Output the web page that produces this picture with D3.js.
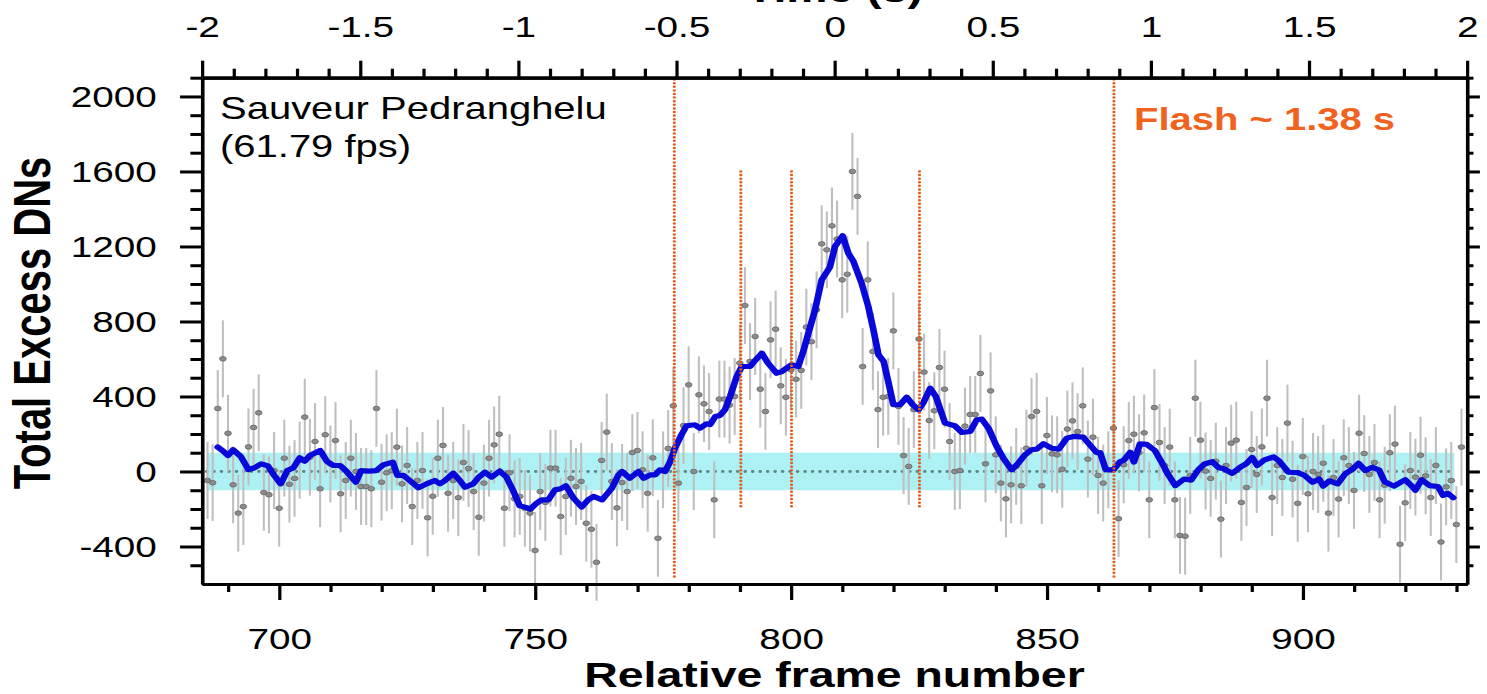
<!DOCTYPE html>
<html>
<head>
<meta charset="utf-8">
<script src="https://cdn.jsdelivr.net/npm/d3@7"></script>
<style>
  html, body { margin: 0; padding: 0; background: #fff; }
  svg { display: block; }
</style>
</head>
<body>
<div id="chart"></div>
<script>
// ---------- data ----------
// one excess-DN value per frame, starting at frame 686
const firstFrame = 686;
const excessDN = [
  -48, -60, 336, 601, 204, -71, -222, -187, 131, 235,
  313, -112, -124, 5, -196, 71, -68, -37, 60, 290,
  76, 160, -92, 196, 40, 165, -119, -48, 71, 0,
  -80, -80, -92, 336, -57, -7, 4, 130, -66, 32,
  -187, -48, 5, -247, -132, 71, 139, -116, -48, -140,
  48, 16, -107, -244, -62, 71, 142, 199, -196, -7,
  -146, -133, -196, -222, -421, -107, -165, 18, 18, -240,
  -133, -36, -80, -53, -276, -308, -484, 59, 210, -53,
  -194, -59, -107, 101, 112, 9, -116, 73, -356, 9,
  123, 350, -62, 245, 462, 0, 409, 361, 320, -151,
  386, 386, 354, 400, 578, 885, 587, 720, 439, 320,
  702, 759, 457, 396, 542, 492, 539, 770, 692, 862,
  1214, 1182, 1310, 1240, 1022, 1052, 1600, 1467, 560, 1022,
  640, 330, 396, 400, 750, 347, 85, 27, 330, 706,
  530, 272, 324, 555, 439, 160, 0, 5, 242, 304,
  304, 523, 41, 430, 89, -62, -146, -71, 27, -76,
  124, 293, 320, -76, 192, 94, 89, 12, 226, 270,
  213, 350, 66, 183, -21, -62, 9, 231, -252, 36,
  165, 199, 100, 206, -151, 341, 155, 32, 130, -151,
  -341, -345, -21, 391, 167, 2, -37, 55, -254, 32,
  151, 167, -165, -85, 117, -16, 131, 391, -139, 32,
  -32, 258, -41, -170, 80, -119, 0, -16, 44, -222,
  -32, -147, 73, 32, -101, 204, 96, -16, 48, -151,
  -73, 100, 146, -388, -167, 5, -30, 87, -23, -139,
  32, -376, -82, -48, -283, 130
];
const errorHalf = 205;   // error bars look the same length everywhere

// the blue smoothed curve, sampled along its path
const smoothFrames = [
  688, 689, 690, 691, 692.5, 694, 695.2, 696.5, 697.8, 699, 700.3, 701.6, 702.8, 704, 705, 706,
  708, 709.3, 710.6, 711.9, 713, 715, 716, 717.5, 719, 720.3, 722.2, 723.1, 724.3, 725.5, 727.2,
  728.8, 730.4, 731.4, 732.4, 734, 735.3, 736.3, 737.9, 739, 740.2, 741.5, 743.1, 744.4, 745.7,
  747, 748, 749.1, 750.3, 751.3, 752.6, 753.9, 755, 756, 757.5, 759.1, 760.4, 761.4, 763.1, 765,
  766.3, 767, 768.5, 770.2, 771.2, 772.5, 773.5, 774.4, 775.4, 776.4, 777.3, 778.6, 779.6, 781.2,
  782.2, 783.5, 784.2, 785.2, 786.1, 787.1, 788.1, 789.4, 790.4, 792, 793.1, 794.3, 795.5, 797.2,
  798.2, 800.1, 801.4, 802.4, 803.4, 804.7, 806, 807.6, 808.6, 810.1, 811.2, 812.2, 813.8, 815.1,
  816.1, 817.1, 818.1, 819, 820, 821.3, 822.6, 823.8, 824.9, 825.9, 827.2, 828.3, 830.1, 832,
  833.4, 835, 836.3, 837.3, 838.6, 840.2, 841.5, 843.1, 844.4, 845.7, 847, 848, 849.3, 850.9,
  852.3, 853.9, 855.2, 857.1, 858.4, 859.7, 860.4, 861.5, 863, 864.3, 865, 866.3, 867, 868.2,
  869.5, 871.1, 872.4, 873.6, 875.1, 876.8, 878.2, 879.6, 880.8, 882.3, 883.6, 884.6, 886.2,
  887.8, 889, 890.1, 891.1, 892.4, 894.3, 895.4, 897.2, 899, 900.3, 901.9, 903.2, 904, 905.2,
  906.8, 908.3, 909.8, 910.9, 912.2, 913.6, 914.9, 916, 917.8, 920, 921.2, 922, 923.2, 924.8,
  926.4, 927.4, 928.3, 929.4
];
const smoothValues = [
  130, 110, 85, 116, 80, 10, 20, 41, 30, -20, -66, 5, 20, 73, 55, 85,
  112, 55, 32, 32, 5, -57, 5, 2, 5, 35, 50, -21, -21, -48, -87,
  -66, -48, -66, -48, -9, -48, -84, -66, -30, -4, -30, 2, -30, -101,
  -183, -190, -200, -169, -151, -151, -98, -92, -76, -142, -190, -151, -133, -151, -89,
  -18, 0, -36, 0, -36, -18, -18, 9, 0, 53, 124, 196, 244, 249,
  231, 254, 250, 293, 299, 329, 400, 507, 560, 560, 595, 631, 578, 524,
  533, 569, 560, 640, 738, 862, 1022, 1090, 1200, 1257, 1164, 1120, 1004, 880,
  756, 622, 587, 480, 356, 356, 396, 356, 329, 368, 444, 400, 258, 244,
  208, 213, 276, 279, 231, 133, 71, 9, 44, 89, 116, 119, 148, 124,
  119, 178, 187, 183, 142, 101, 101, 10, 9, 53, 59, 103, 50, 148,
  145, 112, 50, -12, -75, -40, -46, 10, 40, 52, 20, 14, -10,
  23, 42, 75, 32, 60, 78, 55, -4, -6, -20, -57, -40, -78, -50,
  -66, -12, 14, 44, 5, 23, 8, -55, -78, -44, -75, -100, -44, -75,
  -80, -128, -116, -140
];

// dotted orange markers (frame, top value, bottom value)
const markerFrames  = [777.2, 790.2, 800.1, 825.1, 863.1];
const markerTops    = [2090, 1600, 1600, 1600, 2090];
const markerBottoms = [-570, -200, -200, -200, -570];

// cyan noise band and the dotted zero line
const bandLimits = [-100, 100];
const bandFrames = [685.8, 929.6];

// time axis: 61.79 fps, zero at frame 808.5
const fps = 61.79;
const frameAtZero = 808.5;

const timeTicks = [-2, -1.5, -1, -0.5, 0, 0.5, 1, 1.5, 2];
const timeTickLabels = ["-2", "-1.5", "-1", "-0.5", "0", "0.5", "1", "1.5", "2"];
const frameTicks = [700, 750, 800, 850, 900];
const frameTickLabels = ["700", "750", "800", "850", "900"];
const countTicks = [-400, 0, 400, 800, 1200, 1600, 2000];
const countTickLabels = ["-400", "0", "400", "800", "1200", "1600", "2000"];

// ---------- layout ----------
// the picture is stretched sideways, so draw in narrower units and stretch the svg
const SX = 1.29;
const width = 1487, height = 694;
const vw = width / SX;
const plot = { left: 202 / SX, right: 1467 / SX, top: 77.7, bottom: 584 };
const font = "'Liberation Sans', Arial, Helvetica, sans-serif";

const svg = d3.select("#chart")
  .append("svg")
  .attr("width", width)
  .attr("height", height)
  .attr("viewBox", `0 0 ${vw} ${height}`)
  .attr("preserveAspectRatio", "none");

// scales
const xTime = d3.scaleLinear().domain([-2, 2]).range([plot.left, plot.right]);
const xFrame = d3.scaleLinear()
  .domain([frameAtZero - 2 * fps, frameAtZero + 2 * fps])
  .range([plot.left, plot.right]);
const y = d3.scaleLinear().domain([-600, 2100]).range([plot.bottom, plot.top]);

// rows for the points
const points = excessDN.map((v, i) => ({ frame: firstFrame + i, value: v }));
const smooth = smoothFrames.map((f, i) => ({ frame: f, value: smoothValues[i] }));

// noise band
svg.append("rect")
  .attr("x", xFrame(bandFrames[0]))
  .attr("width", xFrame(bandFrames[1]) - xFrame(bandFrames[0]))
  .attr("y", y(bandLimits[1]))
  .attr("height", y(bandLimits[0]) - y(bandLimits[1]))
  .attr("fill", "#adf1f4");

// dotted zero line
svg.append("line")
  .attr("x1", xFrame(bandFrames[0])).attr("x2", xFrame(bandFrames[1]))
  .attr("y1", y(0)).attr("y2", y(0))
  .attr("stroke", "#5f8585")
  .attr("stroke-width", 2.8)
  .attr("stroke-linecap", "round")
  .attr("stroke-dasharray", "0 5.8");

// error bars
svg.append("g").selectAll("line")
  .data(points)
  .enter()
  .append("line")
  .attr("x1", d => xFrame(d.frame)).attr("x2", d => xFrame(d.frame))
  .attr("y1", d => y(d.value - errorHalf))
  .attr("y2", d => y(d.value + errorHalf))
  .attr("stroke", "#bfbfbf")
  .attr("stroke-width", 1.6);

// points
svg.append("g").selectAll("ellipse")
  .data(points)
  .enter()
  .append("ellipse")
  .attr("cx", d => xFrame(d.frame))
  .attr("cy", d => y(d.value))
  .attr("rx", 2.6)
  .attr("ry", 2.3)
  .attr("fill", "#8c8c8c")
  .attr("stroke", "#666")
  .attr("stroke-width", 0.7);

// smoothed curve
const line = d3.line()
  .x(d => xFrame(d.frame))
  .y(d => y(d.value));

svg.append("path")
  .datum(smooth)
  .attr("fill", "none")
  .attr("stroke", "#0808d8")
  .attr("stroke-width", 5.2)
  .attr("stroke-linejoin", "round")
  .attr("stroke-linecap", "round")
  .attr("d", line);

// orange dotted markers
svg.append("g").selectAll("line")
  .data(markerFrames)
  .enter()
  .append("line")
  .attr("x1", d => xFrame(d)).attr("x2", d => xFrame(d))
  .attr("y1", (d, i) => y(markerTops[i]))
  .attr("y2", (d, i) => y(markerBottoms[i]))
  .attr("stroke", "#e45e1c")
  .attr("stroke-width", 2.5)
  .attr("stroke-linecap", "round")
  .attr("stroke-dasharray", "0 3.6");

// ---------- axes ----------
const minorTime = d3.range(-19, 20).map(d => d / 10).filter(d => Math.abs(d * 2 - Math.round(d * 2)) > 1e-6);
const minorFrame = d3.range(690, 931, 10).filter(d => d % 50 !== 0);
const minorCount = d3.range(-500, 2101, 100).filter(d => d % 400 !== 0);

function styleAxis(g, vertical) {
  g.attr("font-family", font).attr("font-size", 30);
  g.select(".domain").attr("stroke", "#000").attr("stroke-width", vertical ? 2.6 : 3.2);
  g.selectAll(".tick line").attr("stroke", "#000").attr("stroke-width", vertical ? 3 : 2.5);
  g.selectAll(".tick text").attr("fill", "#000");
}

// top: time in seconds
svg.append("g")
  .attr("transform", `translate(0,${plot.top})`)
  .call(d3.axisTop(xTime).tickValues(minorTime).tickSize(9).tickSizeOuter(0).tickFormat(""))
  .call(g => styleAxis(g, false));
svg.append("g")
  .attr("transform", `translate(0,${plot.top})`)
  .call(d3.axisTop(xTime).tickValues(timeTicks).tickSize(17).tickSizeOuter(0).tickPadding(23.7)
    .tickFormat((d, i) => timeTickLabels[i]))
  .call(g => styleAxis(g, false));

// bottom: frame number
svg.append("g")
  .attr("transform", `translate(0,${plot.bottom})`)
  .call(d3.axisBottom(xFrame).tickValues(minorFrame).tickSize(8).tickSizeOuter(0).tickFormat(""))
  .call(g => styleAxis(g, false));
svg.append("g")
  .attr("transform", `translate(0,${plot.bottom})`)
  .call(d3.axisBottom(xFrame).tickValues(frameTicks).tickSize(16).tickSizeOuter(0).tickPadding(28)
    .tickFormat((d, i) => frameTickLabels[i]))
  .call(g => styleAxis(g, false));

// left: counts
svg.append("g")
  .attr("transform", `translate(${plot.left},0)`)
  .call(d3.axisLeft(y).tickValues(minorCount).tickSize(9).tickSizeOuter(0).tickFormat(""))
  .call(g => styleAxis(g, true));
svg.append("g")
  .attr("transform", `translate(${plot.left},0)`)
  .call(d3.axisLeft(y).tickValues(countTicks).tickSize(17).tickSizeOuter(0).tickPadding(18)
    .tickFormat((d, i) => countTickLabels[i]))
  .call(g => styleAxis(g, true));

// right: ticks only
svg.append("g")
  .attr("transform", `translate(${plot.right},0)`)
  .call(d3.axisRight(y).tickValues(minorCount).tickSize(5).tickSizeOuter(0).tickFormat(""))
  .call(g => styleAxis(g, true));
svg.append("g")
  .attr("transform", `translate(${plot.right},0)`)
  .call(d3.axisRight(y).tickValues(countTicks).tickSize(10).tickSizeOuter(0).tickFormat(""))
  .call(g => styleAxis(g, true));

// ---------- titles and notes ----------
const midX = (plot.left + plot.right) / 2;

// top title sits mostly above the picture, as in the original
svg.append("text")
  .attr("x", midX).attr("y", 2)
  .attr("text-anchor", "middle")
  .attr("font-family", font).attr("font-size", 36).attr("font-weight", "bold")
  .text("Time (s)");

svg.append("text")
  .attr("x", midX).attr("y", 687)
  .attr("text-anchor", "middle")
  .attr("font-family", font).attr("font-size", 36).attr("font-weight", "bold")
  .text("Relative frame number");

svg.append("text")
  .attr("transform", `translate(39,323) rotate(-90)`)
  .attr("text-anchor", "middle")
  .attr("font-family", font).attr("font-size", 40).attr("font-weight", "bold")
  .text("Total Excess DNs");

svg.append("text")
  .attr("x", 220 / SX).attr("y", 119)
  .attr("font-family", font).attr("font-size", 31)
  .text("Sauveur Pedranghelu");
svg.append("text")
  .attr("x", 220 / SX).attr("y", 157)
  .attr("font-family", font).attr("font-size", 31)
  .text("(61.79 fps)");

svg.append("text")
  .attr("x", 1134 / SX).attr("y", 130)
  .attr("font-family", font).attr("font-size", 31).attr("font-weight", "bold")
  .attr("fill", "#f0621e")
  .text("Flash ~ 1.38 s");
</script>
</body>
</html>
